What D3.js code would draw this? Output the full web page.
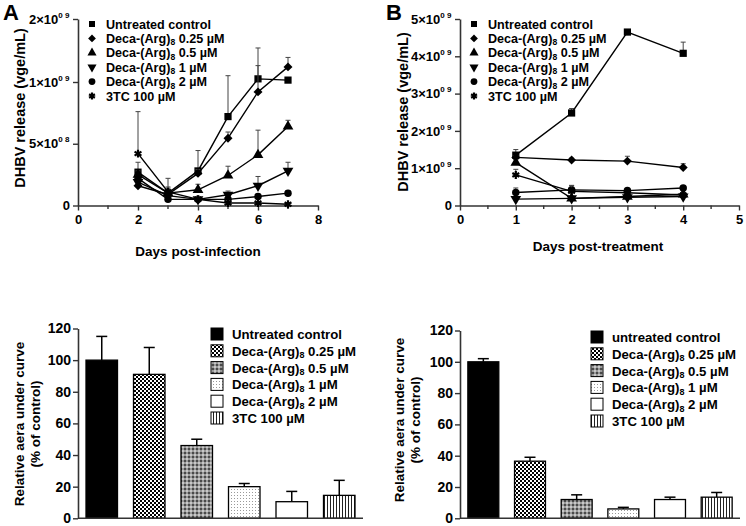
<!DOCTYPE html>
<html><head><meta charset="utf-8">
<script src="https://cdn.jsdelivr.net/npm/d3@7"></script>
<style>
body{margin:0;background:#fff}
svg{display:block;font-family:"Liberation Sans",Arial,sans-serif;font-weight:bold}
</style>
</head><body>
<svg id="c" width="746" height="526"></svg>
<script>
// ---------- DATA ----------
const seriesLabels = ["Untreated control","Deca-(Arg)_8 0.25 µM","Deca-(Arg)_8 0.5 µM","Deca-(Arg)_8 1 µM","Deca-(Arg)_8 2 µM","3TC 100 µM"];
const barLabelsB = ["untreated control","Deca-(Arg)_8 0.25 µM","Deca-(Arg)_8 0.5 µM","Deca-(Arg)_8 1 µM","Deca-(Arg)_8 2 µM","3TC 100 µM"];
const symbolNames = ["square","diamond","triangle","triangleDown","circle","asterisk"];

// Panel A: days post-infection, values in units of 1e9 vge/mL
const daysA = [2,3,4,5,6,7];
const untreatedA = [0.27,0.10,0.28,0.72,1.05,1.03];
const arg025A   = [0.16,0.09,0.26,0.545,0.92,1.24];
const arg05A    = [0.25,0.10,0.127,0.243,0.41,0.64];
const arg1A     = [0.19,0.08,0.05,0.087,0.16,0.28];
const arg2A     = [0.22,0.05,0.05,0.05,0.073,0.10];
const tcA       = [0.42,0.11,0.05,0.02,0.02,0.01];
const untreatedAErr = [0.08,0.05,0.165,0.38,0.49,0.0];
const arg025AErr    = [0.05,0.05,0.03,0.05,0.34,0.15];
const arg05AErr     = [0.03,0.03,0.045,0.075,0.20,0.05];
const arg1AErr      = [0.02,0.02,0.02,0.03,0.075,0.07];
const arg2AErr      = [0.02,0.02,0.02,0.02,0.02,0.02];
const tcAErr        = [0.34,0.11,0.02,0.02,0.01,0.01];

// Panel B: days post-treatment
const daysB = [1,2,3,4];
const untreatedB = [1.35,2.48,4.65,4.08];
const arg025B   = [1.29,1.22,1.19,1.02];
const arg05B    = [1.15,0.19,0.24,0.30];
const arg1B     = [0.17,0.19,0.22,0.24];
const arg2B     = [0.35,0.42,0.40,0.47];
const tcB       = [0.82,0.38,0.34,0.28];
const untreatedBErr = [0.15,0.12,0.03,0.30];
const arg025BErr    = [0.05,0.05,0.13,0.10];
const arg05BErr     = [0.08,0.05,0.03,0.05];
const arg1BErr      = [0.03,0.03,0.03,0.03];
const arg2BErr      = [0.12,0.12,0.05,0.05];
const tcBErr        = [0.15,0.15,0.03,0.05];

// Bars: relative area under curve (% of control)
const aucA    = [100,91,46,20,10.5,14.5];
const aucAErr = [15,17,4,2,6.5,9.5];
const aucB    = [100,36.5,12,6,12,13.5];
const aucBErr = [2,2.5,3,1,1.5,3];

const yTicksA = [0,0.5,1,2];
const yTicksB = [0,1,2,3,4,5];
const barTicks = [0,20,40,60,80,100,120];

// ---------- DRAW ----------
const svg = d3.select("#c");
const defs = svg.append("defs");
function pat(id,w,h,bg,draw){
  const p = defs.append("pattern").attr("id",id).attr("patternUnits","userSpaceOnUse").attr("width",w).attr("height",h);
  p.append("rect").attr("width",w).attr("height",h).attr("fill",bg);
  draw(p);
}
pat("p0",4,4,"#000",p=>{});
pat("p1",4,4,"#fff",p=>{p.append("rect").attr("width",2).attr("height",2).attr("fill","#000");p.append("rect").attr("x",2).attr("y",2).attr("width",2).attr("height",2).attr("fill","#000");});
pat("p2",4,4,"#9a9a9a",p=>{p.append("rect").attr("width",2).attr("height",2).attr("fill","#4a4a4a");p.append("rect").attr("x",2).attr("y",2).attr("width",2).attr("height",2).attr("fill","#c8c8c8");});
pat("p3",3,3,"#fff",p=>{p.append("rect").attr("width",1).attr("height",1).attr("fill","#9a9a9a");});
pat("p4",4,4,"#fff",p=>{});
pat("p5",3,4,"#fff",p=>{p.append("rect").attr("width",1).attr("height",4).attr("fill","#222");});
const fills = ["url(#p0)","url(#p1)","url(#p2)","url(#p3)","url(#p4)","url(#p5)"];

function richText(sel,label,size){
  const parts = label.split("_8");
  sel.append("tspan").text(parts[0]);
  if(parts.length>1){
    sel.append("tspan").attr("font-size",size*0.68).attr("dy",size*0.2).text("8");
    sel.append("tspan").attr("dy",-size*0.2).text(parts[1]);
  }
}
function symPath(name,size){
  if(name==="triangleDown") return d3.symbol(d3.symbolTriangle,size)();
  if(name==="diamond") return d3.symbol(d3.symbolSquare,size)();
  const t = {square:d3.symbolSquare,triangle:d3.symbolTriangle,circle:d3.symbolCircle,asterisk:d3.symbolAsterisk}[name];
  return d3.symbol(t,size)();
}
function drawSym(g,name,x,y,size){
  let tr = `translate(${x},${y})`;
  if(name==="triangleDown") tr += " rotate(180)";
  if(name==="diamond") tr += " rotate(45)";
  const p = g.append("path").attr("d",symPath(name,size)).attr("transform",tr);
  if(name==="asterisk") p.attr("fill","none").attr("stroke","#000").attr("stroke-width",2.2);
  else p.attr("fill","#000");
}
function styleAxis(g,fs){
  g.select(".domain").attr("stroke","#333").attr("stroke-width",1.6);
  g.selectAll(".tick line").attr("stroke","#333").attr("stroke-width",1.4);
  g.selectAll("text").attr("font-size",fs).attr("font-weight","bold").attr("fill","#000").attr("font-family",'"Liberation Sans",Arial,sans-serif');
}
function sciLabels(g,fmt){
  g.selectAll(".tick text").each(function(d){
    const t = d3.select(this); t.text("");
    const f = fmt(d);
    if(f.sup===null){ t.text(f.base); return; }
    t.append("tspan").text(f.base);
    t.append("tspan").attr("font-size",8).attr("dy",-6).text(f.sup);
    t.append("tspan").attr("font-size",8).attr("dy",6).text("\u200a");
  });
}

function linePanel(o){
  const g = svg.append("g");
  const x = o.x, y = o.y;
  const gx = g.append("g").attr("transform",`translate(0,${y(0)})`)
    .call(d3.axisBottom(x).tickValues(o.xTicks).tickFormat(d3.format("d")).tickSize(5).tickSizeOuter(0).tickPadding(4));
  gx.selectAll(".minor").data(o.xMinor).enter().append("line")
    .attr("x1",d=>x(d)).attr("x2",d=>x(d)).attr("y1",0).attr("y2",3.5).attr("stroke","#333").attr("stroke-width",1.4);
  styleAxis(gx,13);
  const gy = g.append("g").attr("transform",`translate(${x(0)},0)`)
    .call(d3.axisLeft(y).tickValues(o.yTicks).tickSize(5).tickSizeOuter(0).tickPadding(3));
  styleAxis(gy,13);
  sciLabels(gy,o.yFmt);
  o.series.forEach((s,i)=>{
    const pts = o.days.map((d,j)=>({d:d,v:s.v[j],e:s.e[j]}));
    pts.forEach(p=>{
      if(p.e>0){
        g.append("line").attr("x1",x(p.d)).attr("x2",x(p.d)).attr("y1",y(p.v)).attr("y2",y(p.v+p.e)).attr("stroke","#444").attr("stroke-width",1);
        g.append("line").attr("x1",x(p.d)-2.5).attr("x2",x(p.d)+2.5).attr("y1",y(p.v+p.e)).attr("y2",y(p.v+p.e)).attr("stroke","#444").attr("stroke-width",1);
      }
    });
    g.append("path").datum(pts).attr("fill","none").attr("stroke","#000").attr("stroke-width",1.4)
      .attr("d",d3.line().x(p=>x(p.d)).y(p=>y(p.v)));
    const nm = symbolNames[i];
    const sz = nm==="asterisk"?44:(nm==="circle"?44:(nm==="diamond"?40:(nm==="square"?52:50)));
    pts.forEach(p=>drawSym(g,nm,x(p.d),y(p.v),sz));
  });
  seriesLabels.forEach((l,i)=>{
    const yy = o.legY + i*14.4;
    const nm = symbolNames[i];
    drawSym(g,nm,o.legX,yy,nm==="asterisk"?32:(nm==="diamond"?30:36));
    const t = g.append("text").attr("x",o.legX+14).attr("y",yy+4.5).attr("font-size",12.6);
    richText(t,l,12.6);
  });
  g.append("text").attr("transform",`translate(${o.yTitleX},${o.yTitleY}) rotate(-90)`).attr("text-anchor","middle").attr("font-size",14.5).text("DHBV release (vge/mL)");
  g.append("text").attr("x",o.xTitleX).attr("y",o.xTitleY).attr("text-anchor","middle").attr("font-size",13.5).text(o.xTitle);
  g.append("text").attr("x",o.letterX).attr("y",20).attr("font-size",22).text(o.letter);
}

const supFmt = (d)=>{
  if(d===0) return {base:"0",sup:null};
  if(d<1) return {base:(d*10)+"\u00d710",sup:"0 8"};
  return {base:d+"\u00d710",sup:"0 9"};
};

linePanel({
  x: d3.scaleLinear().domain([0,8]).range([78,318]),
  y: d3.scaleLinear().domain([0,1,2]).range([205.5,82,19]),
  xTicks:[0,2,4,6,8], xMinor:[1,3,5,7],
  yTicks:yTicksA, yFmt:supFmt,
  days:daysA,
  series:[{v:untreatedA,e:untreatedAErr},{v:arg025A,e:arg025AErr},{v:arg05A,e:arg05AErr},{v:arg1A,e:arg1AErr},{v:arg2A,e:arg2AErr},{v:tcA,e:tcAErr}],
  legX:92, legY:24, yTitleX:25, yTitleY:108, xTitleX:198, xTitleY:256, xTitle:"Days post-infection", letter:"A", letterX:3
});
linePanel({
  x: d3.scaleLinear().domain([0,5]).range([460,739]),
  y: d3.scaleLinear().domain([0,5]).range([205.5,19]),
  xTicks:[0,1,2,3,4,5], xMinor:[0.5,1.5,2.5,3.5,4.5],
  yTicks:yTicksB, yFmt:(d)=>d===0?{base:"0",sup:null}:{base:d+"\u00d710",sup:"0 9"},
  days:daysB,
  series:[{v:untreatedB,e:untreatedBErr},{v:arg025B,e:arg025BErr},{v:arg05B,e:arg05BErr},{v:arg1B,e:arg1BErr},{v:arg2B,e:arg2BErr},{v:tcB,e:tcBErr}],
  legX:474, legY:24, yTitleX:408, yTitleY:112, xTitleX:598, xTitleY:251, xTitle:"Days post-treatment", letter:"B", letterX:386
});

function barPanel(o){
  const g = svg.append("g");
  const y = d3.scaleLinear().domain([0,120]).range([518.3,o.top]);
  const x = d3.scaleBand().domain(d3.range(6)).range([o.x0,o.x1]).paddingInner(0.337).paddingOuter(0.1685);
  o.vals.forEach((v,i)=>{
    const cx = x(i)+x.bandwidth()/2;
    g.append("line").attr("x1",cx).attr("x2",cx).attr("y1",y(v)).attr("y2",y(v+o.errs[i])).attr("stroke","#000").attr("stroke-width",1.5);
    g.append("line").attr("x1",cx-5.5).attr("x2",cx+5.5).attr("y1",y(v+o.errs[i])).attr("y2",y(v+o.errs[i])).attr("stroke","#000").attr("stroke-width",1.5);
    g.append("rect").attr("x",x(i)).attr("y",y(v)).attr("width",x.bandwidth()).attr("height",y(0)-y(v))
      .attr("fill",fills[i]).attr("stroke","#000").attr("stroke-width",1.3);
  });
  const gx = g.append("g").attr("transform",`translate(0,${y(0)})`)
    .call(d3.axisBottom(x).tickValues([]).tickSizeOuter(0));
  gx.select(".domain").attr("d",`M${o.x0},0H${o.x1}`);
  styleAxis(gx,13);
  const gy = g.append("g").attr("transform",`translate(${o.x0},0)`)
    .call(d3.axisLeft(y).tickValues(barTicks).tickSize(5).tickSizeOuter(0).tickPadding(2));
  styleAxis(gy,14);
  g.append("text").attr("transform",`translate(${o.tx},${o.ty}) rotate(-90)`).attr("text-anchor","middle").attr("font-size",13.5)
    .call(t=>{t.append("tspan").attr("x",0).attr("dy",0).text("Relative aera under curve");t.append("tspan").attr("x",0).attr("dy",16).text("(% of control)");});
  o.labels.forEach((l,i)=>{
    const yy = o.legY + i*16.8;
    g.append("rect").attr("x",o.legX).attr("y",yy-6).attr("width",12).attr("height",12).attr("fill",fills[i]).attr("stroke","#000").attr("stroke-width",1);
    const t = g.append("text").attr("x",o.legX+21).attr("y",yy+5).attr("font-size",13.2);
    richText(t,l,13.2);
  });
}
barPanel({vals:aucA,errs:aucAErr,labels:seriesLabels,x0:78,x1:363,top:328.5,tx:24,ty:424,legX:211,legY:334});
barPanel({vals:aucB,errs:aucBErr,labels:barLabelsB,x0:460,x1:740,top:330.5,tx:404,ty:420,legX:591,legY:337});
</script>
</body></html>
